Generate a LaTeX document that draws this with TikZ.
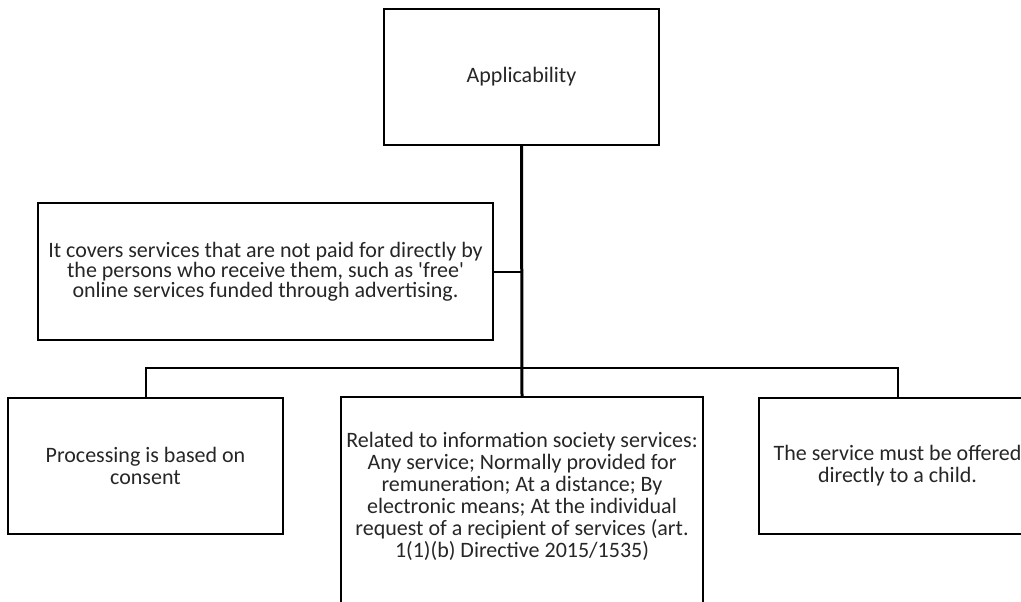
\documentclass[tikz,border=0pt]{standalone}
\usepackage{fontspec}
\setmainfont{Carlito}[Ligatures=TeXOff]
\begin{document}
\begin{tikzpicture}[x=1pt,y=-1pt,
  box/.style={draw=black, line width=2pt, rectangle, inner sep=0pt, text=black!85,
    align=center, font=\fontsize{22}{22}\selectfont},
  notebox/.style={box, font=\fontsize{22}{20}\selectfont},
  label/.style={inner sep=0pt, text=black!85, align=center, font=\fontsize{22}{22}\selectfont},
  trunk/.style={draw=black, line width=3pt},
  link/.style={draw=black, line width=2pt}]
\useasboundingbox (0,0) rectangle (1021,602);
\clip (0,0) rectangle (1021,602);

% root
\node[box, minimum width=275pt, minimum height=136pt] (root) at (521.5,77) {Applicability};

% side note on the trunk
\node[notebox, minimum width=455pt, minimum height=137pt] (note) at (265.5,271.5)
  {It covers services that are not paid for directly by\\
   the persons who receive them, such as 'free'\\
   online services funded through advertising.};

% children
\node[box, minimum width=275pt, minimum height=136pt] (consent) at (145.5,466)
  {Processing is based on\\ consent};
\node[box, minimum width=362pt, minimum height=243pt] (iss) at (522,518.5) {};
\node[label] (isstext) at (522,496)
  {Related to information society services:\\
   Any service; Normally provided for\\
   remuneration; At a distance; By\\
   electronic means; At the individual\\
   request of a recipient of services (art.\\
   1(1)(b) Directive 2015/1535)};
\node[box, minimum width=277pt, minimum height=136pt] (child) at (897.5,466)
  {The service must be offered\\ directly to a child.};

% connectors
\coordinate (bus) at (521.5,368);
\draw[trunk] (root.south) -- (iss.north);
\draw[link] (note.east) -- (note.east -| root.south);
\draw[link] (consent.north) |- (bus) -| (child.north);
\end{tikzpicture}
\end{document}
